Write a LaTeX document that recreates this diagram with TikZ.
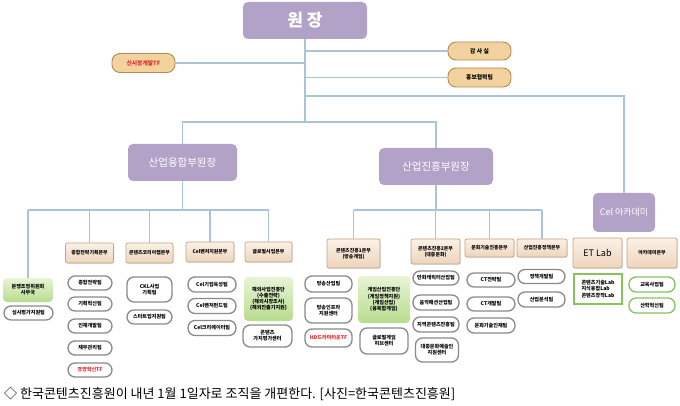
\documentclass[tikz,border=0pt]{standalone}
\usepackage{fontspec}
\setmainfont{Noto Sans CJK KR}
\usetikzlibrary{shadows}
\definecolor{purp}{HTML}{B3A2C8}
\definecolor{lnc}{HTML}{A9C4D6}
\definecolor{hdrtop}{HTML}{FBF1E6}
\definecolor{hdrbot}{HTML}{EDD5BC}
\definecolor{hdrdraw}{HTML}{C4A285}
\definecolor{pillgray}{HTML}{8A8A8A}
\definecolor{grtop}{HTML}{E8F4D6}
\definecolor{grbot}{HTML}{B8DC8E}
\definecolor{grline}{HTML}{84C45C}
\definecolor{orfill}{HTML}{F2D39E}
\definecolor{ordraw}{HTML}{B48A4E}
\definecolor{tfred}{HTML}{E5282C}
\newcommand\fhd{\fontsize{4.9}{5.9}\selectfont\bfseries}
\newcommand\fpl{\fontsize{5.1}{6.1}\selectfont\bfseries}
\tikzset{
  conn/.style={draw=lnc, line width=1.2pt},
  purplebox/.style={rectangle, rounded corners=5pt, fill=purp, text=white, inner sep=0pt, align=center},
  opill/.style={rectangle, rounded corners=8pt, fill=orfill, draw=ordraw, line width=0.9pt, inner sep=0pt, font=\fontsize{5.8}{7}\selectfont\bfseries, align=center},
  hdr/.style={rectangle, rounded corners=2pt, top color=hdrtop, bottom color=hdrbot, draw=hdrdraw, line width=0.7pt, inner sep=0pt, font=\fhd, align=center, drop shadow={opacity=0.2, shadow xshift=0.8pt, shadow yshift=-0.8pt}},
  gpill/.style={rectangle, rounded corners=7pt, fill=white, draw=pillgray, line width=1.3pt, inner sep=0pt, font=\fpl, align=center},
  gbox/.style={rectangle, rounded corners=4pt, top color=grtop, bottom color=grbot, inner sep=0pt, font=\fpl, align=center},
  grpill/.style={rectangle, rounded corners=7pt, fill=white, draw=grline, line width=1.3pt, inner sep=0pt, font=\fpl, align=center},
  grrect/.style={rectangle, fill=white, draw=grline, line width=1.3pt, inner sep=0pt, font=\fpl, align=left},
}
\begin{document}
\begin{tikzpicture}[x=1pt,y=-1pt]
\useasboundingbox (0,0) rectangle (680,406);
\fill[white] (0,0) rectangle (680,406);

% top level
\node[purplebox, minimum width=124pt, minimum height=37pt, font=\fontsize{17}{20}\selectfont\bfseries] (wonjang) at (305,20.5) {원 장};
\node[opill, minimum width=63pt, minimum height=18pt] (gamsa) at (479.5,51) {감 사 실};
\node[opill, minimum width=63pt, minimum height=19pt, text=tfred] (sinsi) at (143.5,63) {신시장개발TF};
\node[opill, minimum width=63pt, minimum height=19pt] (hongbo) at (479.5,77.5) {홍보협력팀};

\node[purplebox, minimum width=109pt, minimum height=37pt, font=\fontsize{10.5}{12}\selectfont] (bu1) at (182.5,162.5) {산업융합부원장};
\node[purplebox, minimum width=114pt, minimum height=37pt, font=\fontsize{10.5}{12}\selectfont] (bu2) at (436,166.5) {산업진흥부원장};
\node[purplebox, minimum width=62pt, minimum height=39pt, font=\fontsize{9}{11}\selectfont] (cel) at (624,212.5) {Cel 아카데미};

\coordinate (trunkbot) at (305,122);
\coordinate (celjoin) at (305,96);
\coordinate (h1) at (0,210);

% headers
\node[hdr, minimum width=48pt, minimum height=20pt] (hjong) at (89.5,253) {종합전략기획본부};
\node[hdr, minimum width=47pt, minimum height=20pt] (hckl) at (149.5,253) {콘텐츠코리아랩본부};
\node[hdr, minimum width=48pt, minimum height=20pt] (hcel) at (210,252) {Cel벤처지원본부};
\node[hdr, minimum width=47pt, minimum height=20pt] (hglo) at (268.5,252) {글로벌사업본부};
\node[hdr, minimum width=53pt, minimum height=29pt] (hj1) at (353.5,253.5) {콘텐츠진흥1본부\\(방송게임)};
\node[hdr, minimum width=49pt, minimum height=25pt] (hj2) at (435.5,251.5) {콘텐츠진흥2본부\\(대중문화)};
\node[hdr, minimum width=49pt, minimum height=18pt] (hct) at (489.5,248) {문화기술진흥본부};
\node[hdr, minimum width=50pt, minimum height=18pt] (hpol) at (542,248) {산업진흥정책본부};
\node[hdr, minimum width=49pt, minimum height=30pt, font=\fontsize{9}{11}\selectfont] (het) at (597.5,253) {ET Lab};
\node[hdr, minimum width=50pt, minimum height=30pt] (haca) at (652,253) {아카데미본부};

% left column
\node[gbox, minimum width=50pt, minimum height=24pt] (bunj) at (28,290) {분쟁조정위원회\\사무국};
\node[gpill, minimum width=49pt, minimum height=14pt] (simsa) at (28.5,313) {심사평가지원팀};

% 종합전략기획본부
\node[gpill, minimum width=44pt, minimum height=14pt] (j1) at (90,283) {종합전략팀};
\node[gpill, minimum width=44pt, minimum height=14pt] (j2) at (90,304) {기획혁신팀};
\node[gpill, minimum width=44pt, minimum height=14pt] (j3) at (90,326) {인재개발팀};
\node[gpill, minimum width=44pt, minimum height=14pt] (j4) at (90,348) {재무관리팀};
\node[gpill, minimum width=44pt, minimum height=14pt, text=tfred] (j5) at (90,370) {경영혁신TF};

% CKL
\node[gpill, minimum width=45pt, minimum height=25pt] (c1) at (149.5,289.5) {CKL사업\\기획팀};
\node[gpill, minimum width=45pt, minimum height=14pt] (c2) at (149.5,317) {스타트업지원팀};

% Cel
\node[gpill, minimum width=48pt, minimum height=15pt] (e1) at (212,284.5) {Cel기업육성팀};
\node[gpill, minimum width=48pt, minimum height=15pt] (e2) at (212,306) {Cel벤처펀드팀};
\node[gpill, minimum width=48pt, minimum height=15pt] (e3) at (212,328) {Cel크리에이터팀};

% 글로벌
\node[gbox, minimum width=49pt, minimum height=44pt] (haeoe) at (268.5,299) {해외사업진흥단\\(수출전략)\\(해외시장조사)\\(해외진출기지원)};
\node[gpill, minimum width=49pt, minimum height=22pt] (gachi) at (267.5,336) {콘텐츠\\가치평가센터};

% 진흥1
\node[gpill, minimum width=47pt, minimum height=16pt] (b1) at (328.5,284) {방송산업팀};
\node[gpill, minimum width=47pt, minimum height=25pt] (b2) at (328.5,310.5) {방송인프라\\지원센터};
\node[gpill, minimum width=47pt, minimum height=18pt, text=tfred] (b3) at (328.5,338) {HD드라마타운TF};
\node[gbox, minimum width=52pt, minimum height=47pt] (game) at (384,299.5) {게임산업진흥단\\(게임정책지원)\\(게임산업)\\(융복합게임)};
\node[gpill, minimum width=48pt, minimum height=26pt] (hub) at (384,341) {글로벌게임\\허브센터};

% 진흥2
\node[gpill, minimum width=46pt, minimum height=14pt] (p1) at (436,278) {만화캐릭터산업팀};
\node[gpill, minimum width=46pt, minimum height=15pt] (p2) at (436,302.5) {음악패션산업팀};
\node[gpill, minimum width=46pt, minimum height=15pt] (p3) at (436,324.5) {지역콘텐츠진흥팀};
\node[gpill, minimum width=43pt, minimum height=24pt] (p4) at (437,350) {대중문화예술인\\지원센터};

% 문화기술
\node[gpill, minimum width=48pt, minimum height=14pt] (t1) at (491,280) {CT전략팀};
\node[gpill, minimum width=48pt, minimum height=14pt] (t2) at (491,304) {CT개발팀};
\node[gpill, minimum width=48pt, minimum height=15pt] (t3) at (491,325.5) {문화기술인재팀};

% 정책
\node[gpill, minimum width=47pt, minimum height=14pt] (s1) at (541.5,276.5) {정책개발팀};
\node[gpill, minimum width=47pt, minimum height=15pt] (s2) at (541.5,299.5) {산업분석팀};

% academy
\node[grrect, minimum width=48pt, minimum height=30pt] (etlist) at (598,289) {콘텐츠기술Lab\\지식융합Lab\\콘텐츠창작Lab};
\node[grpill, minimum width=46pt, minimum height=15pt] (a1) at (652,284.5) {교육사업팀};
\node[grpill, minimum width=46pt, minimum height=15pt] (a2) at (652,305.5) {산학혁신팀};

% connectors
\draw[conn] (wonjang.south) -- (trunkbot);
\draw[conn] (sinsi.east) -- (sinsi.east -| wonjang.south);
\draw[conn] (gamsa.west) -- (gamsa.west -| wonjang.south);
\draw[conn] (hongbo.west) -- (hongbo.west -| wonjang.south);
\draw[conn] (celjoin) -| (cel.north);
\draw[conn] (bu1.north) -- (bu1.north |- trunkbot) -- (bu2.north |- trunkbot) -- (bu2.north);
\draw[conn] (bu1.south) -- (bu1.south |- h1);
\draw[conn] (bunj.north |- h1) -- (hglo.north |- h1);
\foreach \n in {bunj,hjong,hckl,hcel,hglo} \draw[conn] (\n.north |- h1) -- (\n.north);
\draw[conn] (bu2.south) -- (bu2.south |- h1);
\draw[conn] (hj1.north |- h1) -- (hpol.north |- h1);
\foreach \n in {hj1,hj2,hct,hpol} \draw[conn] (\n.north |- h1) -- (\n.north);

% caption
\node[anchor=west, inner sep=0pt, font=\fontsize{13}{15}\selectfont] (cap) at (4,394) {◇ 한국콘텐츠진흥원이 내년 1월 1일자로 조직을 개편한다. [사진=한국콘텐츠진흥원]};
\end{tikzpicture}
\end{document}
